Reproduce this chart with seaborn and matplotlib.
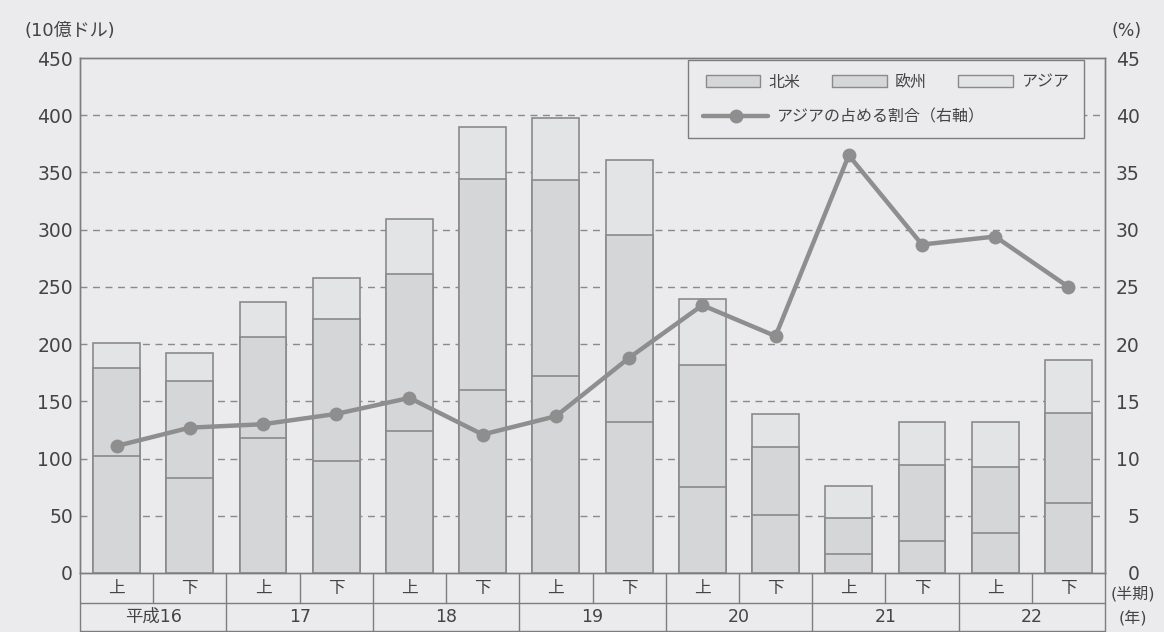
import matplotlib
matplotlib.use("Agg")
import matplotlib.pyplot as plt
import matplotlib.transforms as mtransforms
from matplotlib.patches import Patch, Rectangle
from matplotlib.lines import Line2D
import numpy as np
import pandas as pd
import seaborn as sns

# ---- data ----
years = ["平成16", "17", "18", "19", "20", "21", "22"]
halves = ["上", "下"]
north_america = [102, 83, 118, 98, 124, 160, 172, 132, 75, 51, 17, 28, 35, 61]
europe = [77, 85, 88, 124, 137, 184, 171, 163, 107, 59, 31, 66, 58, 79]
asia = [22, 24, 31, 36, 48, 46, 55, 66, 57, 29, 28, 38, 39, 46]
asia_share = [11.1, 12.7, 13.0, 13.9, 15.3, 12.1, 13.7, 18.8, 23.4, 20.7, 36.5, 28.7, 29.4, 25.0]

labels = [f"{y}{h}" for y in years for h in halves]
na = np.array(north_america)
eu = np.array(europe)
asi = np.array(asia)
df = pd.DataFrame({
    "period": labels,
    "na": na,
    "na_eu": na + eu,
    "total": na + eu + asi,
    "idx": np.arange(len(labels)),
    "share": asia_share,
})

BG = "#ebebed"
C_LOW = "#d5d6d8"
C_TOP = "#e3e4e6"
EDGE = "#8a8a8a"
LINE = "#8e8e8e"
TXT = "#444444"
FRAME = "#7d7d7d"

sns.set_style("white")
plt.rcParams["font.family"] = ["DejaVu Sans", "Noto Sans CJK JP"]

fig = plt.figure(figsize=(11.64, 6.32), dpi=100, facecolor=BG)
ax = fig.add_axes([80 / 1164, 1 - 573 / 632, (1105 - 80) / 1164, (573 - 58) / 632])
ax.set_facecolor(BG)

# stacked bars: draw cumulative heights from the top down
bw = 0.64
sns.barplot(data=df, x="period", y="total", color=C_TOP, saturation=1, width=bw,
            edgecolor=EDGE, linewidth=1.2, ax=ax, zorder=2)
sns.barplot(data=df, x="period", y="na_eu", color=C_LOW, saturation=1, width=bw,
            edgecolor=EDGE, linewidth=1.2, ax=ax, zorder=3)
sns.barplot(data=df, x="period", y="na", color=C_LOW, saturation=1, width=bw,
            edgecolor=EDGE, linewidth=1.2, ax=ax, zorder=4)

ax.set_xlim(-0.5, len(labels) - 0.5)
ax.set_ylim(0, 450)
ax.set_yticks(np.arange(0, 451, 50))
ax.set_xticks([])
ax.set_xlabel("")
ax.set_ylabel("")
ax.tick_params(axis="y", length=0, pad=5, labelsize=13.5, labelcolor=TXT)
for yv in range(50, 450, 50):
    ax.axhline(yv, color="#8a8a8a", lw=1.0, ls=(0, (5, 4)), zorder=1)
for side in ["left", "right", "top", "bottom"]:
    ax.spines[side].set_color(FRAME)
    ax.spines[side].set_linewidth(1.0)

# share line on the right axis
ax2 = ax.twinx()
sns.lineplot(data=df, x="idx", y="share", color=LINE, lw=3.2, marker="o",
             markersize=10, markeredgewidth=0, ax=ax2, zorder=5)
ax2.set_ylim(0, 45)
ax2.set_yticks(np.arange(0, 46, 5))
ax2.set_xlim(-0.5, len(labels) - 0.5)
ax2.set_ylabel("")
ax2.set_xlabel("")
ax2.tick_params(axis="y", length=0, pad=25, labelsize=13.5, labelcolor=TXT)
for t in ax2.get_yticklabels():
    t.set_horizontalalignment("right")
for side in ["left", "right", "top", "bottom"]:
    ax2.spines[side].set_color(FRAME)
    ax2.spines[side].set_linewidth(1.0)

# unit captions
fig.text(24 / 1164, 1 - 31 / 632, "(10億ドル)", fontsize=13, color=TXT, ha="left", va="center")
fig.text(1127 / 1164, 1 - 31 / 632, "(%)", fontsize=12.5, color=TXT, ha="center", va="center")

# legend box
box = Rectangle((688 / 1164, 1 - 138 / 632), (1084 - 688) / 1164, (138 - 60) / 632,
                transform=fig.transFigure, facecolor=BG, edgecolor=FRAME, lw=1.0, zorder=10)
fig.add_artist(box)
bar_handles = [Patch(facecolor=C_LOW, edgecolor=EDGE, lw=1.0),
               Patch(facecolor=C_LOW, edgecolor=EDGE, lw=1.0),
               Patch(facecolor=C_TOP, edgecolor=EDGE, lw=1.0)]
leg1 = fig.legend(bar_handles, ["北米", "欧州", "アジア"], ncol=3, frameon=False,
                  loc="center left", bbox_to_anchor=(706 / 1164, 1 - 82 / 632),
                  prop={"family": "Noto Sans CJK JP", "size": 11.5},
                  handlelength=3.4, handleheight=0.85, handletextpad=0.5,
                  columnspacing=2.0, labelcolor=TXT, borderaxespad=0, borderpad=0)
leg1.set_zorder(11)
line_handle = [Line2D([0], [0], color=LINE, lw=3.2, marker="o", markersize=10, markeredgewidth=0)]
leg2 = fig.legend(line_handle, ["アジアの占める割合（右軸）"], frameon=False,
                  loc="center left", bbox_to_anchor=(703 / 1164, 1 - 117 / 632),
                  prop={"family": "Noto Sans CJK JP", "size": 11.5},
                  handlelength=4.1, handletextpad=0.5, labelcolor=TXT,
                  borderaxespad=0, borderpad=0)
leg2.set_zorder(11)

# category table under the plot
trans = mtransforms.blended_transform_factory(ax.transData, ax.transAxes)
ph = 515.0
r1 = -30 / ph
r2 = -58 / ph
kw = dict(transform=trans, clip_on=False, color=FRAME, lw=1.0)
ax.plot([-0.5, len(labels) - 0.5], [r1, r1], **kw)
ax.plot([-0.5, len(labels) - 0.5], [r2, r2], **kw)
ax.plot([-0.5, -0.5], [0, r2], **kw)
ax.plot([len(labels) - 0.5] * 2, [0, r2], **kw)
for i in range(1, len(labels)):
    bottom = r2 if i % 2 == 0 else r1
    ax.plot([i - 0.5, i - 0.5], [0, bottom], **kw)
for i, lab in enumerate(labels):
    ax.text(i, r1 / 2, halves[i % 2], transform=trans, ha="center", va="center",
            fontsize=12, color=TXT, family="Noto Sans CJK JP")
for j, y in enumerate(years):
    ax.text(2 * j + 0.5, (r1 + r2) / 2, y, transform=trans, ha="center", va="center",
            fontsize=12.5, color=TXT)
fig.text(1133 / 1164, 1 - 594 / 632, "(半期)", fontsize=11.5, color=TXT, ha="center", va="center")
fig.text(1133 / 1164, 1 - 618 / 632, "(年)", fontsize=11.5, color=TXT, ha="center", va="center")

fig.savefig("out.png", dpi=100, facecolor=BG)
